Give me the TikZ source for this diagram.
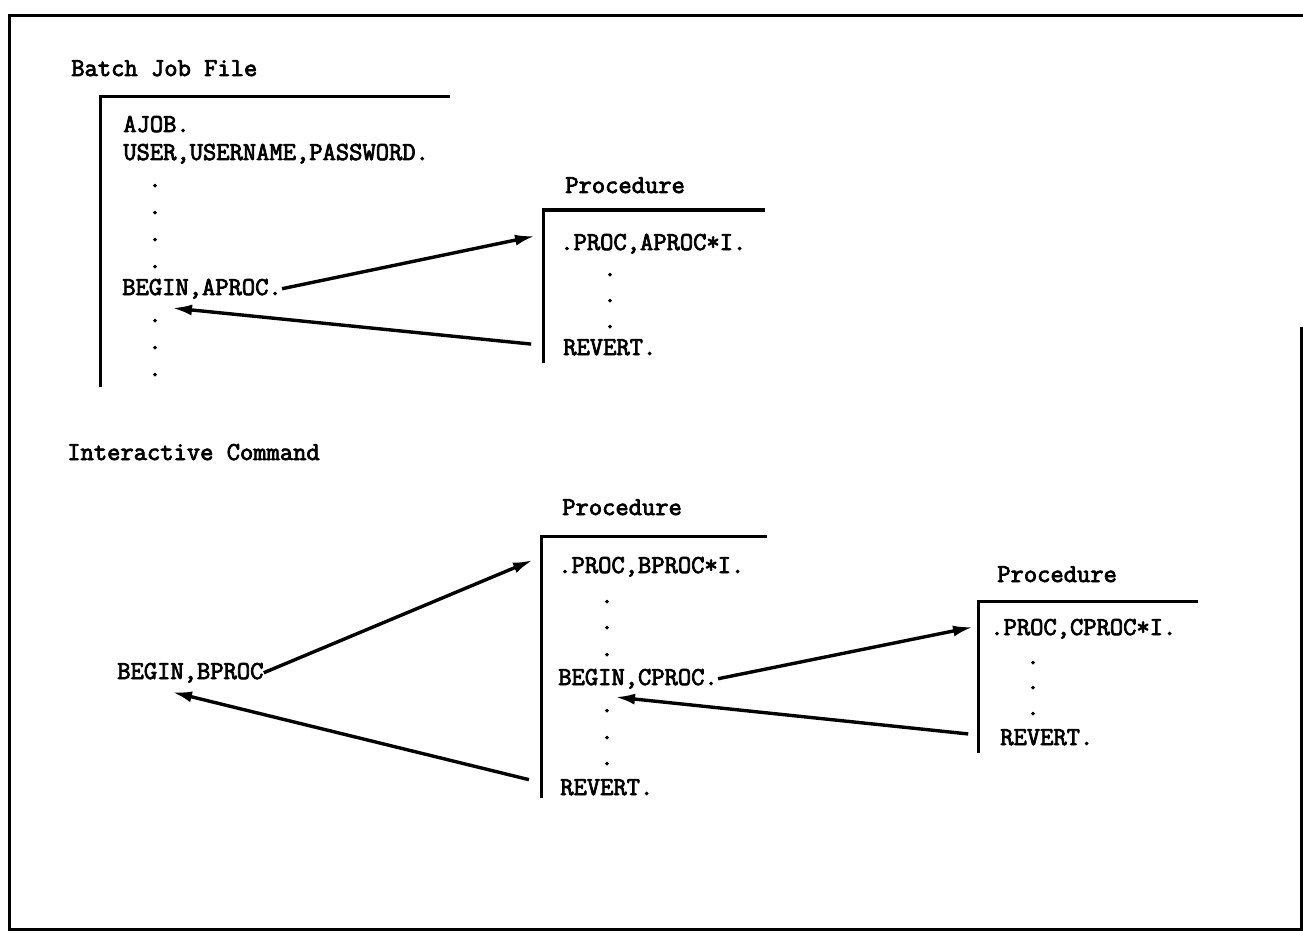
\documentclass[tikz,border=0pt]{standalone}
\usepackage{fontspec}
\newfontfamily\typefont{Latin Modern Mono}[FakeBold=3]
\usetikzlibrary{arrows.meta}

\begin{document}
\begin{tikzpicture}[x=1pt, y=-1pt, semithick,
    txt/.style={anchor=base west, inner sep=0pt, font=\typefont\fontsize{25.8pt}{27pt}\selectfont},
    dot/.style={txt, anchor=base},
    frame/.style={line width=3pt},
    call/.style={line width=3.4pt, -{Latex[length=20pt,width=11pt]}},
    ret/.style={call, shorten <=32pt}]

  \useasboundingbox (0,0) rectangle (1303,936);
  \draw[frame] (1301,327) -- (1301,929) -- (9,929) -- (9,16) -- (1303,16);

  % batch job
  \node[txt] (lblBatch) at (71,76) {Batch Job File};
  \draw[frame] (100,387) |- (450,97);
  \node[txt] (ajob)   at (123,132) {AJOB.};
  \node[txt] (user)   at (123,160) {USER,USERNAME,PASSWORD.};
  \node[txt] (beginA) at (122,295) {BEGIN,APROC.};
  \foreach \y in {187,214,241,268,322,349,376}
    \node[dot] (dA\y) at (155,\y) {.};

  % procedure A
  \node[txt] (lblProcA) at (565,193) {Procedure};
  \draw[frame] (543,363) |- (765,210);
  \node[txt] (procA) at (560,250) {.PROC,APROC*I.};
  \node[txt] (revA)  at (563,355) {REVERT.};
  \foreach \y in {276,302,328}
    \node[dot] (dPA\y) at (610,\y) {.};

  % interactive command
  \node[txt] (lblInter) at (67,460) {Interactive Command};
  \node[txt] (beginB)   at (117,679) {BEGIN,BPROC};

  % procedure B
  \node[txt] (lblProcB) at (562,515) {Procedure};
  \draw[frame] (541,798) |- (767,536);
  \node[txt] (procB)  at (558,573) {.PROC,BPROC*I.};
  \node[txt] (beginC) at (558,685) {BEGIN,CPROC.};
  \node[txt] (revB)   at (560,795) {REVERT.};
  \foreach \y in {603,629,656,712,739,765}
    \node[dot] (dPB\y) at (607,\y) {.};

  % procedure C
  \node[txt] (lblProcC) at (997,582) {Procedure};
  \draw[frame] (978,753) |- (1198,601);
  \node[txt] (procC) at (990,635) {.PROC,CPROC*I.};
  \node[txt] (revC)  at (1000,745) {REVERT.};
  \foreach \y in {664,689,715}
    \node[dot] (dPC\y) at (1033,\y) {.};

  \coordinate (inA)   at (535,236);
  \coordinate (backA) at (172,308);
  \coordinate (inB)   at (533,560);
  \coordinate (backB) at (172,692);
  \coordinate (inC)   at (973,627);
  \coordinate (backC) at (615,697);

  \draw[call] (beginA.east) -- (inA);
  \draw[ret]  (revA.west) -- (backA);
  \draw[call] (beginB.east) -- (inB);
  \draw[ret]  (revB.west) -- (backB);
  \draw[call] (beginC.east) -- (inC);
  \draw[ret]  (revC.west) -- (backC);

\end{tikzpicture}
\end{document}
